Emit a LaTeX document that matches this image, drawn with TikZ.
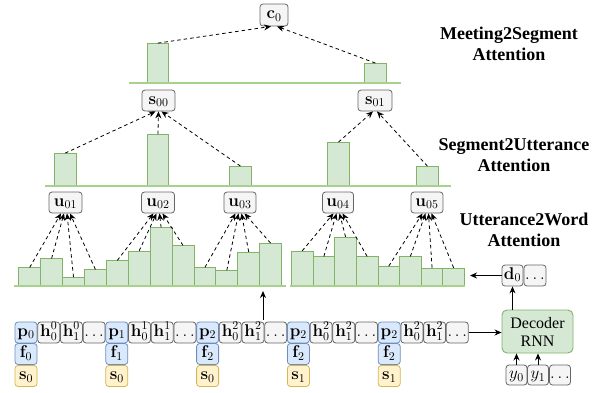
\RequirePackage{fix-cm}
\documentclass[tikz,border=0pt]{standalone}
\usepackage[no-math]{fontspec}
\setmainfont{Liberation Serif}
\usetikzlibrary{arrows.meta,calc}

\definecolor{grayfill}{HTML}{F5F5F5}
\definecolor{grayline}{HTML}{666666}
\definecolor{bluefill}{HTML}{DAE8FC}
\definecolor{blueline}{HTML}{6C8EBF}
\definecolor{yellowfill}{HTML}{FFF2CC}
\definecolor{yellowline}{HTML}{D6B656}
\definecolor{greenfill}{HTML}{D5E8D4}
\definecolor{greenline}{HTML}{82B366}
\definecolor{levelline}{HTML}{A9D18E}

\tikzset{
  box/.style={draw=grayline, fill=grayfill, rounded corners=3pt, line width=0.8pt,
    inner sep=0pt, font=\fontsize{17}{20}\selectfont, text height=11pt, text depth=4pt},
  cell/.style={box, minimum width=22pt, minimum height=21pt},
  pcell/.style={cell, draw=blueline, fill=bluefill},
  scell/.style={cell, draw=yellowline, fill=yellowfill},
  bar/.style={draw=greenline, fill=greenfill, line width=0.9pt, inner sep=0pt,
    minimum width=21.9pt, anchor=south west},
  level/.style={draw=levelline, line width=1.6pt},
  att/.style={draw, line width=0.8pt, dash pattern=on 3.5pt off 3pt,
    -{Stealth[length=7pt,width=6pt]}},
  flow/.style={draw, line width=1pt, -{Stealth[length=7pt,width=6pt]}},
  title/.style={font=\fontsize{18}{21}\selectfont\bfseries, align=center},
}

\begin{document}
\begin{tikzpicture}[x=1pt,y=-1pt]
\useasboundingbox (0,0) rectangle (608,392);

% ---------- word-level attention bars ----------
\foreach \i/\x/\h in {1/18.3/17.7, 2/40.2/26.7, 3/62.1/8, 4/84.0/15.7,
    5/105.9/24.7, 6/127.8/34.3, 7/149.7/57.7, 8/171.6/39.7,
    9/193.5/17.7, 10/215.4/14.7, 11/237.3/33.3, 12/259.2/42}
  \node[bar, minimum height=\h pt] (w\i) at (\x,286) {};
\foreach \i/\x/\h in {13/291.0/34.3, 14/312.6/28.7, 15/334.3/48.3, 16/355.9/28.7,
    17/377.5/19, 18/399.1/28.7, 19/420.8/17.3, 20/442.4/17.3}
  \node[bar, minimum width=21.6pt, minimum height=\h pt] (w\i) at (\x,286) {};
\draw[level] (14,286) -- (286,286);
\draw[level] (290,286) -- (465,286);

% ---------- utterance nodes ----------
\node[box, minimum width=33pt, minimum height=21pt] (u01) at (65.5,202.5) {$\mathbf{u}_{01}$};
\node[box, minimum width=33pt, minimum height=21pt] (u02) at (158,202.5) {$\mathbf{u}_{02}$};
\node[box, minimum width=32pt, minimum height=21pt] (u03) at (240,202.5) {$\mathbf{u}_{03}$};
\node[box, minimum width=31pt, minimum height=21pt] (u04) at (338,202.5) {$\mathbf{u}_{04}$};
\node[box, minimum width=32pt, minimum height=21pt] (u05) at (427,202.5) {$\mathbf{u}_{05}$};

\foreach \b/\u/\o in {1/u01/-4.5, 2/u01/-1.5, 3/u01/1.5, 4/u01/4.5,
    5/u02/-4.5, 6/u02/-1.5, 7/u02/1.5, 8/u02/4.5,
    9/u03/-4.5, 10/u03/-1.5, 11/u03/1.5, 12/u03/4.5,
    13/u04/-4.5, 14/u04/-1.5, 15/u04/1.5, 16/u04/4.5,
    17/u05/-4.5, 18/u05/-1.5, 19/u05/1.5, 20/u05/4.5}
  \draw[att] (w\b.north) -- ([xshift=\o pt]\u.south);

% ---------- segment-level attention bars ----------
\node[bar, minimum width=22.5pt, minimum height=32pt] (g1) at (53.5,186) {};
\node[bar, minimum width=21pt, minimum height=51pt] (g2) at (147,186) {};
\node[bar, minimum width=22pt, minimum height=19pt] (g3) at (229,186) {};
\node[bar, minimum width=22pt, minimum height=43pt] (g4) at (327,186) {};
\node[bar, minimum width=22pt, minimum height=19pt] (g5) at (416,186) {};
\draw[level] (45,186) -- (451,186);

% ---------- segment nodes ----------
\node[box, minimum width=33pt, minimum height=21pt] (s00) at (158.5,100.5) {$\mathbf{s}_{00}$};
\node[box, minimum width=34pt, minimum height=21pt] (s01) at (375,100.5) {$\mathbf{s}_{01}$};

\draw[att] (g1.north) -- ([xshift=-3pt]s00.south);
\draw[att] (g2.north) -- (s00.south);
\draw[att] (g3.north) -- ([xshift=3pt]s00.south);
\draw[att] (g4.north) -- ([xshift=-2pt]s01.south);
\draw[att] (g5.north) -- ([xshift=2pt]s01.south);

% ---------- meeting-level attention bars ----------
\node[bar, minimum width=21pt, minimum height=39pt] (m1) at (147,83) {};
\node[bar, minimum width=22pt, minimum height=19pt] (m2) at (364,83) {};
\draw[level] (129,83) -- (401,83);

\node[box, minimum width=28pt, minimum height=22pt] (c0) at (274,15) {$\mathbf{c}_0$};
\draw[att] (m1.north) -- ([xshift=-3pt]c0.south);
\draw[att] (m2.north) -- ([xshift=3pt]c0.south);

% ---------- level titles ----------
\node[title] (t1) at (509,44) {Meeting2Segment\\Attention};
\node[title] (t2) at (514,155) {Segment2Utterance\\Attention};
\node[title] (t3) at (524,230) {Utterance2Word\\Attention};

% ---------- encoder input row ----------
\node[pcell] (c0i)  at (26.0,332.5)  {$\mathbf{p}_0$};
\node[cell]  (c1)   at (48.7,332.5)  {$\mathbf{h}^0_0$};
\node[cell]  (c2)   at (71.4,332.5)  {$\mathbf{h}^0_1$};
\node[cell]  (c3)   at (94.1,332.5)  {$\ldots$};
\node[pcell] (c4)   at (116.8,332.5) {$\mathbf{p}_1$};
\node[cell]  (c5)   at (139.5,332.5) {$\mathbf{h}^1_0$};
\node[cell]  (c6)   at (162.2,332.5) {$\mathbf{h}^1_1$};
\node[cell]  (c7)   at (184.9,332.5) {$\ldots$};
\node[pcell] (c8)   at (207.6,332.5) {$\mathbf{p}_2$};
\node[cell]  (c9)   at (230.3,332.5) {$\mathbf{h}^2_0$};
\node[cell]  (c10)  at (253.0,332.5) {$\mathbf{h}^2_1$};
\node[cell]  (c11)  at (275.7,332.5) {$\ldots$};
\node[pcell] (c12)  at (298.4,332.5) {$\mathbf{p}_2$};
\node[cell]  (c13)  at (321.1,332.5) {$\mathbf{h}^2_0$};
\node[cell]  (c14)  at (343.8,332.5) {$\mathbf{h}^2_1$};
\node[cell]  (c15)  at (366.5,332.5) {$\ldots$};
\node[pcell] (c16)  at (389.2,332.5) {$\mathbf{p}_2$};
\node[cell]  (c17)  at (411.9,332.5) {$\mathbf{h}^2_0$};
\node[cell]  (c18)  at (434.6,332.5) {$\mathbf{h}^2_1$};
\node[cell]  (c19)  at (457.3,332.5) {$\ldots$};

\foreach \n/\x/\f/\s in {a/26.0/0/0, b/116.8/1/0, c/207.6/2/0, d/298.4/2/1, e/389.2/2/1} {
  \node[pcell] (f\n) at (\x,354) {$\mathbf{f}_\f$};
  \node[scell] (s\n) at (\x,376) {$\mathbf{s}_\s$};
}

\coordinate (encin) at (263,320);
\coordinate (encout) at (263,291);
\draw[flow] (encin) -- (encout);

% ---------- decoder ----------
\node[draw=greenline, fill=greenfill, line width=0.9pt, rounded corners=5pt,
  minimum width=71pt, minimum height=43pt, align=center,
  font=\fontsize{16}{18}\selectfont] (dec) at (537.5,331.5) {Decoder\\RNN};

\node[box, minimum width=21pt, minimum height=21pt] (d0) at (512.5,275.5) {$\mathbf{d}_0$};
\node[box, minimum width=22pt, minimum height=21pt] (dd) at (535,275.5) {$\ldots$};

\node[box, minimum width=21pt, minimum height=20pt] (y0) at (516.5,375) {$y_0$};
\node[box, minimum width=21pt, minimum height=20pt] (y1) at (538,375) {$y_1$};
\node[box, minimum width=21pt, minimum height=20pt] (yd) at (560,375) {$\ldots$};

\coordinate (dtip) at (470,275.5);
\draw[flow] (c19.east) -- (c19.east -| dec.west);
\draw[flow] (y0.north) -- (y0.north |- dec.south);
\draw[flow] (y1.north) -- (y1.north |- dec.south);
\draw[flow] (d0.south |- dec.north) -- (d0.south);
\draw[flow] (d0.west) -- (dtip);
\end{tikzpicture}
\end{document}
